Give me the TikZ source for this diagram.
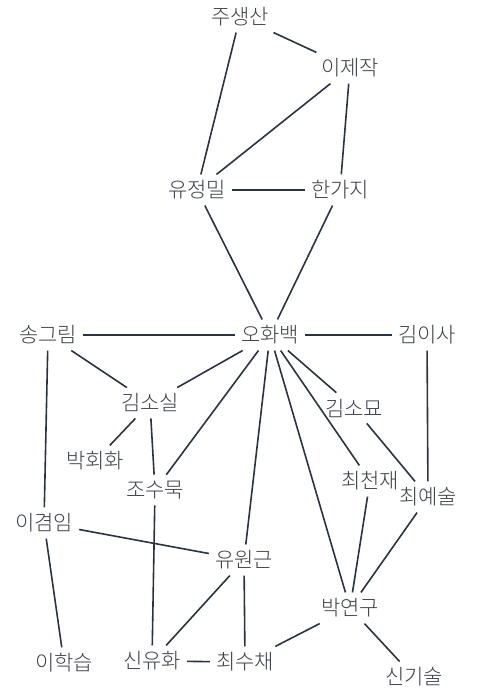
\documentclass[tikz,border=0pt]{standalone}
\usepackage{fontspec}
\setmainfont{Noto Sans CJK KR}[UprightFont=* Light]
\definecolor{inkline}{HTML}{2B3340}
\definecolor{inktext}{HTML}{3C4048}
\begin{document}
\begin{tikzpicture}[x=1pt, y=-1pt, person/.style={inner sep=6pt, text=inktext, font=\fontsize{21}{24}\selectfont}, tie/.style={draw=inkline, line width=1.6pt}]
      \useasboundingbox (0,0) rectangle (485,688);
      \node[person] (jss) at (240, 17) {주생산};
      \node[person] (ijj) at (350, 68) {이제작};
      \node[person] (yjm) at (197, 190) {유정밀};
      \node[person] (hgj) at (340, 190) {한가지};
      \node[person] (ohb) at (270, 335) {오화백};
      \node[person] (sgr) at (48, 335) {송그림};
      \node[person] (kis) at (427, 335) {김이사};
      \node[person] (kss) at (150, 403) {김소실};
      \node[person] (ksm) at (354, 408) {김소묘};
      \node[person] (phh) at (95, 461) {박회화};
      \node[person] (jsm) at (155, 490) {조수묵};
      \node[person] (ccj) at (370, 481) {최천재};
      \node[person] (cys) at (428, 497) {최예술};
      \node[person] (igi) at (44, 523) {이겸임};
      \node[person] (ywg) at (244, 560) {유원근};
      \node[person] (pyg) at (350, 608) {박연구};
      \node[person] (ihs) at (64, 663) {이학습};
      \node[person] (syh) at (152, 661) {신유화};
      \node[person] (csc) at (245, 662) {최수채};
      \node[person] (sgs) at (414, 677) {신기술};

      \draw[tie] (jss) -- (ijj);
      \draw[tie] (jss) -- (yjm);
      \draw[tie] (ijj) -- (yjm);
      \draw[tie] (ijj) -- (hgj);
      \draw[tie] (yjm) -- (hgj);
      \draw[tie] (yjm) -- (ohb);
      \draw[tie] (hgj) -- (ohb);
      \draw[tie] (sgr) -- (ohb);
      \draw[tie] (ohb) -- (kis);
      \draw[tie] (sgr) -- (kss);
      \draw[tie] (ohb) -- (kss);
      \draw[tie] (ohb) -- (jsm);
      \draw[tie] (ohb) -- (ksm);
      \draw[tie] (ohb) -- (ccj);
      \draw[tie] (ohb) -- (ywg);
      \draw[tie] (ohb) -- (pyg);
      \draw[tie] (kis) -- (cys);
      \draw[tie] (ksm) -- (cys);
      \draw[tie] (kss) -- (phh);
      \draw[tie] (kss) -- (jsm);
      \draw[tie] (sgr) -- (igi);
      \draw[tie] (jsm) -- (syh);
      \draw[tie] (igi) -- (ywg);
      \draw[tie] (igi) -- (ihs);
      \draw[tie] (ywg) -- (syh);
      \draw[tie] (ywg) -- (csc);
      \draw[tie] (syh) -- (csc);
      \draw[tie] (ccj) -- (pyg);
      \draw[tie] (cys) -- (pyg);
      \draw[tie] (pyg) -- (csc);
      \draw[tie] (pyg) -- (sgs);
    \end{tikzpicture}
\end{document}
